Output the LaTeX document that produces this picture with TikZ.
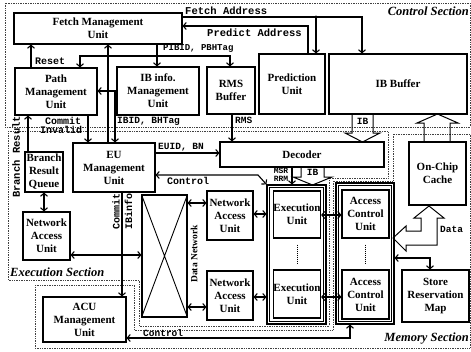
\documentclass[tikz,border=0pt]{standalone}
\usepackage{fontspec}
\setmainfont{Liberation Serif}
\newfontfamily\monof{Liberation Mono}
\usetikzlibrary{arrows.meta}
\begin{document}
\begin{tikzpicture}[x=1pt,y=-1pt,
  box/.style={draw,line width=1.1pt,align=center,inner sep=0pt,font=\bfseries\fontsize{11}{13}\selectfont},
  col/.style={draw,line width=1.1pt,inner sep=0pt},
  lbl/.style={font=\monof\bfseries\fontsize{10}{10}\selectfont,inner sep=0pt},
  sec/.style={draw=black!75,densely dotted,line width=0.7pt},
  arr/.style={line width=1.1pt,-{Straight Barb[length=3pt,width=7pt]}},
  darr/.style={line width=1.1pt,{Straight Barb[length=3pt,width=7pt]}-{Straight Barb[length=3pt,width=7pt]}},
  ln/.style={line width=1.1pt},
  blk/.style={draw,line width=1pt,line join=miter},
  seclbl/.style={font=\bfseries\itshape\fontsize{12.5}{14}\selectfont,inner sep=0pt}
]
\useasboundingbox (0,0) rectangle (471,351);
\fill[white] (0,0) rectangle (471,351);

% sections
\draw[sec] (5,3) rectangle (470,127);
\draw[sec] (8,131) -- (388,131) -- (388,178) -- (329,178) -- (329,326) -- (139,326) -- (139,280) -- (8,280) -- cycle;
\draw[sec] (35,285) -- (134,285) -- (134,330) -- (333,330) -- (333,181) -- (393,181) -- (393,134) -- (470,134) -- (470,348) -- (35,348) -- cycle;
\node[seclbl,anchor=east] (csl) at (469,11) {Control Section};
\node[seclbl,anchor=west] (esl) at (10,272) {Execution Section};
\node[seclbl,anchor=east] (msl) at (469,339) {Memory Section};

% boxes
\node[box,minimum width=168pt,minimum height=31pt] (fmu) at (98,28.5) {Fetch Management\\Unit};
\node[box,minimum width=82pt,minimum height=47pt] (pmu) at (56,91.5) {Path\\Management\\Unit};
\node[box,minimum width=82pt,minimum height=48pt] (ibm) at (158,91) {IB info.\\Management\\Unit};
\node[box,minimum width=48pt,minimum height=47pt] (rms) at (231,90.5) {RMS\\Buffer};
\node[box,minimum width=66pt,minimum height=60pt] (pred) at (292,84) {Prediction\\Unit};
\node[box,minimum width=138pt,minimum height=60pt] (ibb) at (398,84) {IB Buffer};
\node[box,minimum width=164pt,minimum height=25pt] (dec) at (302,154.5) {Decoder};
\node[box,minimum width=57pt,minimum height=63pt] (cache) at (437.5,173.5) {On-Chip\\Cache};
\node[box,minimum width=38pt,minimum height=40pt] (brq) at (44,172) {Branch\\Result\\Queue};
\node[box,minimum width=47pt,minimum height=48pt] (nau0) at (46.5,236) {Network\\Access\\Unit};
\node[box,minimum width=82pt,minimum height=49pt] (eum) at (114,167.5) {EU\\Management\\Unit};
\node[col,minimum width=45pt,minimum height=122pt] (dnet) at (164.5,256) {};
\draw[line width=0.9pt] (dnet.north west) -- (dnet.south east) (dnet.north east) -- (dnet.south west);
\node[rotate=90,font=\bfseries\fontsize{9.5}{10}\selectfont,inner sep=0pt] (dnl) at (194,254) {Data Network};
\node[box,minimum width=46pt,minimum height=49pt] (nau1) at (230,215.5) {Network\\Access\\Unit};
\node[box,minimum width=46pt,minimum height=49pt] (nau2) at (230,295.5) {Network\\Access\\Unit};
\node[col,minimum width=59pt,minimum height=139pt] (excol) at (296.5,254.5) {};
\draw[line width=0.8pt] ([shift={(3,3)}]excol.north west) rectangle ([shift={(-3,-3)}]excol.south east);
\node[box,minimum width=47pt,minimum height=47pt] (ex1) at (297,214.5) {Execution\\Unit};
\node[box,minimum width=47pt,minimum height=48pt] (ex2) at (297,294) {Execution\\Unit};
\node[col,minimum width=58pt,minimum height=141pt] (accol) at (365,253.5) {};
\draw[line width=0.8pt] ([shift={(3,3)}]accol.north west) rectangle ([shift={(-3,-3)}]accol.south east);
\node[box,minimum width=47pt,minimum height=48pt] (ac1) at (365.5,214) {Access\\Control\\Unit};
\node[box,minimum width=47pt,minimum height=49pt] (ac2) at (365.5,294.5) {Access\\Control\\Unit};
\node[box,minimum width=67pt,minimum height=52pt] (srm) at (435.5,296) {Store\\Reservation\\Map};
\node[box,minimum width=83pt,minimum height=45pt] (acum) at (84.5,319.5) {ACU\\Management\\Unit};

\draw[densely dotted,line width=1pt] (ex1.south) ++(0,6) -- ([yshift=6pt]ex2.north);
\draw[densely dotted,line width=1pt] (ac1.south) ++(0,6) -- ([yshift=6pt]ac2.north);

% control connectors
\draw[arr] (fmu.east |- 0,17) -| (ibb.north -| 362,0);
\draw[arr] (316,17) -- (pred.north -| 316,0);
\fill (316,17) circle (1.6pt);
\node[lbl,anchor=west,font=\monof\bfseries\fontsize{10.5}{10}\selectfont] (lfa) at (185,11) {Fetch Address};
\draw[arr] (pred.north -| 308,0) |- (fmu.east |- 0,26);
\node[lbl,anchor=west,font=\monof\bfseries\fontsize{10.5}{10}\selectfont] (lpa) at (207,33) {Predict Address};
\draw[arr] (fmu.south -| 157,0) -- (ibm.north -| 157,0);
\draw[arr] (157,56) -| (pmu.north -| 80,0);
\draw[arr] (157,56) -| (rms.north -| 230,0);
\fill (157,56) circle (1.6pt);
\node[lbl,anchor=west,font=\monof\bfseries\fontsize{9}{10}\selectfont] (lpib) at (163,48) {PIBID, PBHTag};
\draw[arr] (pmu.north -| 31,0) -- (fmu.south -| 31,0);
\node[lbl,anchor=west] (lres) at (35,61) {Reset};
\draw[arr] (eum.north -| 108,0) -- (fmu.south -| 108,0);
\draw[arr] (ibm.west |- 0,91) -- (pmu.east |- 0,91);
\draw[arr] (115,91) -- (eum.north -| 115,0);
\draw[arr] (pmu.south -| 88,0) -- (eum.north -| 88,0);
\node[lbl,anchor=west] (lcom) at (45,121) {Commit};
\node[lbl,anchor=west] (linv) at (40,130) {Invalid};
\node[lbl,anchor=west,font=\monof\bfseries\fontsize{9.5}{10}\selectfont] (libid) at (117,121) {IBID, BHTag};
\draw[arr] (brq.north -| 28,0) -- (pmu.south -| 28,0);
\node[lbl,rotate=90,font=\monof\bfseries\fontsize{10.5}{10}\selectfont] (lbr) at (16,157) {Branch Result};
\draw[arr] (rms.south -| 232,0) -- (dec.north -| 232,0);
\node[lbl,anchor=west,font=\monof\bfseries\fontsize{9.5}{10}\selectfont] (lrms) at (235,120) {RMS};

% block arrows
\draw[blk] (352,114) -- (352,133) -- (345,133) -- (362.5,142) -- (380,133) -- (373,133) -- (373,114);
\node[lbl,font=\monof\bfseries\fontsize{9.5}{10}\selectfont] (lib1) at (362.5,121) {IB};
\draw[blk] (424,142) -- (424,123) -- (417,123) -- (437.5,114) -- (458,123) -- (450,123) -- (450,142);
\draw[blk] (301,167) -- (301,177) -- (293,177) -- (312.5,185) -- (332,177) -- (324,177) -- (324,167);
\node[lbl,font=\monof\bfseries\fontsize{9.5}{10}\selectfont] (lib2) at (312.5,172.5) {IB};
\draw[blk] (429,206) -- (444,218) -- (437,218) -- (437,245) -- (406,245) -- (406,251) -- (393,238) -- (406,226) -- (406,231) -- (421,231) -- (421,218) -- (414,218) -- cycle;
\node[lbl,anchor=west,font=\monof\bfseries\fontsize{9.5}{10}\selectfont] (ldata) at (440,229) {Data};

% execution connectors
\draw[arr] (eum.east |- 0,153) -- (dec.west |- 0,153);
\node[lbl,anchor=west,font=\monof\bfseries\fontsize{9.5}{10}\selectfont] (leu) at (158,147) {EUID, BN};
\draw[darr] (eum.east |- 0,175) -- (258,175) -- (excol.north west);
\node[lbl,anchor=west] (lctl) at (167,181) {Control};
\draw[arr] (dec.south -| 292,0) -- (excol.north -| 292,0);
\node[lbl,font=\monof\bfseries\fontsize{8}{8}\selectfont] (lmsr) at (281,170.5) {MSR};
\node[lbl,font=\monof\bfseries\fontsize{8}{8}\selectfont] (lrrm) at (281,178.5) {RRM};
\draw[darr] (dnet.east |- 0,203) -- (nau1.west |- 0,203);
\draw[darr] (nau1.east |- 0,214) -- (excol.west |- 0,214);
\draw[darr] (ex1.east |- 0,215) -- (ac1.west |- 0,215);
\draw[darr] (dnet.east |- 0,307) -- (nau2.west |- 0,307);
\draw[darr] (nau2.east |- 0,297) -- (excol.west |- 0,297);
\draw[darr] (ex2.east |- 0,297) -- (ac2.west |- 0,297);
\draw[darr] (brq.south) -- (nau0.north -| brq.south);
\draw[darr] (nau0.east |- 0,255) -- (dnet.west |- 0,255);
\draw[darr] (accol.east |- 0,258) -| (srm.north -| 430,0);
\draw[arr] (eum.south -| 122,0) -- (acum.north -| 122,0);
\node[lbl,rotate=90] (lcom2) at (116,211) {Commit};
\node[lbl,rotate=90] (libinf) at (128.5,211) {IBinfo};
\draw[darr] (acum.east |- 0,338) -| (accol.south -| 350,0);
\node[lbl,anchor=west,font=\monof\bfseries\fontsize{9.5}{10}\selectfont] (lctl2) at (143,333) {Control};
\end{tikzpicture}
\end{document}
